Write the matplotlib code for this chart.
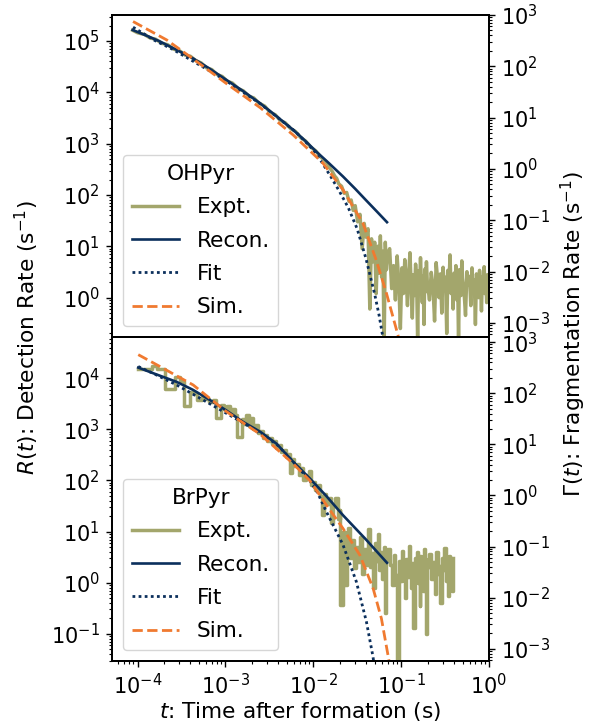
"""
Detection rate / fragmentation rate comparison for OHPyr and BrPyr
"""

import numpy as np
import matplotlib
matplotlib.use("Agg")
import matplotlib.pyplot as plt
from matplotlib.ticker import LogLocator, NullFormatter

plt.rcParams["font.size"] = 15.6

COL_EXPT = "#a3a66c"
COL_NAVY = "#0b2f5c"
COL_SIM = "#f07a30"

# ---------------- OHPyr (top panel) ----------------
top_expt_t = [8.8e-5, 1.0e-4, 1.2e-4, 1.4e-4, 1.6e-4, 1.9e-4, 2.2e-4, 2.6e-4, 3.0e-4, 3.5e-4,
              4.0e-4, 4.6e-4, 5.3e-4, 6.1e-4, 7.0e-4, 8.0e-4, 9.2e-4, 1.05e-3, 1.2e-3, 1.4e-3,
              1.6e-3, 1.85e-3, 2.1e-3, 2.4e-3, 2.8e-3, 3.2e-3, 3.7e-3, 4.2e-3, 4.8e-3, 5.5e-3,
              6.3e-3, 7.2e-3, 8.2e-3, 9.4e-3, 1.07e-2, 1.2e-2,
              0.0135, 0.0145, 0.0155, 0.0165, 0.0175, 0.0185, 0.0195, 0.021, 0.0225, 0.024,
              0.0255, 0.027, 0.0285, 0.030, 0.032, 0.034, 0.036, 0.038, 0.040, 0.042,
              0.044, 0.046, 0.048, 0.050, 0.052, 0.054, 0.056, 0.058, 0.060, 0.062,
              0.064, 0.066, 0.068, 0.070]
top_expt_r = [1.62e5, 1.45e5, 1.34e5, 1.14e5, 1.09e5, 9.0e4, 8.5e4, 6.9e4, 6.5e4, 5.3e4,
              5.05e4, 4.15e4, 3.75e4, 3.0e4, 2.78e4, 2.24e4, 2.04e4, 1.65e4, 1.52e4, 1.18e4,
              1.07e4, 8.4e3, 7.8e3, 6.2e3, 5.4e3, 4.15e3, 3.65e3, 2.85e3, 2.55e3, 1.98e3,
              1.72e3, 1.31e3, 1.12e3, 850, 720, 560,
              470, 400, 330, 285, 235, 210, 165, 148, 108, 112,
              75, 80, 50, 62, 30, 42, 9, 28, 15, 22,
              0.6, 14, 5, 12, 1.2, 10, 3, 16, 2.5, 8,
              0.1, 12, 3.5, 7]
top_tail_t = [0.074, 0.078, 0.082, 0.086, 0.090, 0.094, 0.098, 0.102, 0.106, 0.110,
              0.114, 0.118, 0.122, 0.126, 0.130, 0.134, 0.138, 0.142, 0.146, 0.150,
              0.154, 0.158, 0.162, 0.166, 0.170, 0.174, 0.178, 0.182, 0.186, 0.190,
              0.194, 0.198,
              0.21, 0.22, 0.23, 0.24, 0.25, 0.26, 0.27, 0.28, 0.29, 0.30,
              0.31, 0.32, 0.33, 0.34, 0.35, 0.36, 0.37, 0.38, 0.39, 0.40,
              0.41, 0.42, 0.43, 0.44, 0.45, 0.46, 0.47, 0.48, 0.49, 0.50,
              0.52, 0.54, 0.56, 0.58, 0.60, 0.62, 0.64, 0.66, 0.68, 0.70,
              0.72, 0.74, 0.76, 0.78, 0.80, 0.82, 0.84, 0.86, 0.88, 0.90,
              0.92, 0.94, 0.96, 0.98, 1.00]
top_tail_r = [9.0, 1.5, 4.2, 0.9, 6.5, 2.0, 0.25, 3.8, 1.2, 5.5,
              2.4, 0.7, 3.0, 7.5, 1.6, 0.4, 2.8, 1.1, 4.5, 2.2,
              0.15, 3.3, 1.4, 6.0, 1.9, 0.8, 2.6, 0.3, 3.6, 1.3,
              5.0, 2.1,
              0.9, 3.1, 1.7, 0.35, 4.8, 2.3, 1.0, 2.9, 0.5, 3.9,
              1.5, 2.5, 0.2, 3.4, 1.8, 6.8, 1.2, 2.7, 0.6, 3.0,
              1.6, 4.2, 0.9, 2.2, 0.12, 3.5, 1.9, 1.1, 5.2, 2.4,
              1.3, 0.45, 3.2, 1.8, 2.6, 0.7, 3.8, 1.5, 2.2, 0.3,
              2.9, 1.7, 1.0, 3.4, 2.0, 0.55, 2.5, 1.4, 4.0, 1.2,
              2.3, 0.8, 2.8, 1.6, 2.1]

top_recon_t = [8.8e-5, 1.3e-4, 1.8e-4, 2.8e-4, 4.3e-4, 6.5e-4, 1.03e-3, 1.6e-3, 2.47e-3,
               3.8e-3, 5.9e-3, 8.0e-3, 1.09e-2, 1.5e-2, 2.18e-2, 3.0e-2, 4.0e-2, 5.3e-2, 6.9e-2]
top_recon_r = [1.64e5, 1.25e5, 9.8e4, 6.7e4, 4.57e4, 2.95e4, 1.74e4, 1.05e4, 6.17e3,
               3.45e3, 1.86e3, 1.16e3, 692, 420, 229, 132, 78.5, 47.5, 29.5]

top_fit_t = [8.9e-5, 1.58e-4, 2.51e-4, 3.98e-4, 6.31e-4, 1.0e-3, 2.51e-3, 6.31e-3, 1.0e-2,
             1.26e-2, 1.58e-2, 2.0e-2, 2.51e-2, 3.16e-2, 3.98e-2, 5.01e-2, 5.62e-2, 6.31e-2, 7.08e-2]
top_fit_r = [1.86e5, 1.02e5, 6.9e4, 4.35e4, 2.75e4, 1.72e4, 5.95e3, 1.7e3, 759,
             427, 229, 115, 56, 21.9, 5.75, 1.15, 0.447, 0.141, 0.04]

top_sim_t = [8.9e-5, 2.15e-4, 4.0e-4, 1.03e-3, 2.5e-3, 5.9e-3, 1.29e-2, 2.18e-2, 3.68e-2,
             5.2e-2, 6.8e-2, 9.2e-2, 0.105]
top_sim_r = [2.4e5, 1.05e5, 4.9e4, 1.48e4, 5.0e3, 1.48e3, 417, 126, 28,
             5.4, 1.22, 0.186, 0.06]

# ---------------- BrPyr (bottom panel) ----------------
bot_expt_t = [1.0e-4, 1.3e-4, 1.45e-4, 1.66e-4, 2.04e-4, 2.69e-4, 3.05e-4, 3.39e-4, 3.98e-4, 4.4e-4,
              4.79e-4, 5.37e-4, 5.9e-4, 6.5e-4, 7.2e-4, 7.9e-4, 8.9e-4, 9.6e-4, 1.04e-3, 1.12e-3,
              1.2e-3, 1.28e-3, 1.35e-3, 1.55e-3, 1.65e-3, 1.72e-3, 1.85e-3, 1.95e-3, 2.05e-3, 2.2e-3,
              2.35e-3, 2.5e-3, 2.65e-3, 2.8e-3, 3.0e-3, 3.2e-3, 3.4e-3, 3.6e-3, 3.8e-3, 4.0e-3,
              4.3e-3, 4.6e-3, 4.9e-3, 5.2e-3, 5.5e-3, 5.8e-3, 6.1e-3, 6.5e-3, 6.9e-3, 7.3e-3,
              7.7e-3, 8.2e-3, 8.9e-3, 9.4e-3, 1.0e-2, 1.06e-2, 1.12e-2, 1.2e-2, 1.26e-2, 1.33e-2,
              1.41e-2, 1.5e-2, 1.58e-2, 1.68e-2, 1.78e-2, 1.9e-2, 2.0e-2, 2.04e-2, 2.2e-2, 2.3e-2,
              2.4e-2, 2.5e-2, 2.6e-2, 2.75e-2, 2.9e-2, 3.05e-2, 3.2e-2, 3.4e-2, 3.6e-2, 3.8e-2,
              4.0e-2, 4.2e-2, 4.4e-2, 4.6e-2, 4.8e-2, 5.0e-2, 5.2e-2, 5.4e-2, 5.6e-2, 5.8e-2,
              6.0e-2, 6.2e-2, 6.4e-2, 6.6e-2, 6.8e-2, 7.0e-2]
bot_expt_r = [1.55e4, 1.5e4, 1.75e4, 1.5e4, 6.3e3, 1.05e4, 9.0e3, 2.9e3, 5.4e3, 5.0e3,
              3.8e3, 4.5e3, 4.0e3, 3.5e3, 3.8e3, 1.66e3, 3.0e3, 2.5e3, 2.9e3, 2.1e3,
              2.5e3, 1.9e3, 720, 1.6e3, 1.25e3, 1.9e3, 1.15e3, 1.7e3, 1.0e3, 1.2e3,
              850, 950, 680, 780, 600, 680, 520, 580, 430, 490,
              360, 400, 290, 330, 140, 260, 190, 210, 130, 175,
              100, 130, 150, 80, 95, 65, 80, 50, 21, 55,
              35, 45, 15, 32, 45, 18, 26, 0.36, 10, 0.9,
              6, 12, 3, 7, 1.9, 5, 2.5, 8, 1.5, 4.5,
              2.2, 11, 2.0, 3.8, 0.8, 6, 2.6, 9, 1.8, 4.0,
              1.2, 3.2, 5.0, 0.25, 2.8, 4.5]
bot_tail_t = [0.074, 0.078, 0.082, 0.086, 0.090, 0.094, 0.098, 0.102, 0.106, 0.110,
              0.114, 0.118, 0.122, 0.126, 0.130, 0.134, 0.138, 0.142, 0.146, 0.150,
              0.154, 0.158, 0.162, 0.166, 0.170, 0.174, 0.178, 0.182, 0.186, 0.190,
              0.194, 0.198,
              0.21, 0.22, 0.23, 0.24, 0.25, 0.26, 0.27, 0.28, 0.29, 0.30,
              0.31, 0.32, 0.33, 0.34, 0.35, 0.36, 0.37, 0.38, 0.39]
bot_tail_r = [2.2, 0.9, 3.5, 1.4, 0.02, 2.6, 1.1, 4.2, 1.7, 0.5,
              2.9, 1.3, 5.3, 1.9, 0.8, 2.4, 0.13, 3.1, 1.5, 4.0,
              1.0, 2.7, 0.35, 3.3, 1.6, 2.2, 0.7, 4.6, 1.8, 2.9,
              0.1, 2.0,
              3.6, 1.2, 2.5, 0.6, 3.9, 1.5, 2.1, 0.4, 3.0, 1.8,
              4.8, 1.1, 2.6, 0.55, 3.4, 1.4, 2.3, 0.7, 3.1]

bot_recon_t = [1.02e-4, 1.58e-4, 2.79e-4, 4.27e-4, 6.67e-4, 1.02e-3, 1.58e-3, 2.51e-3, 3.82e-3,
               5.89e-3, 9.12e-3, 1.41e-2, 2.18e-2, 3.89e-2, 6.9e-2]
bot_recon_r = [1.62e4, 1.22e4, 8.5e3, 5.95e3, 3.76e3, 2.36e3, 1.41e3, 890, 525,
               234, 110, 49.5, 20.9, 7.3, 2.45]

bot_fit_t = [1.02e-4, 1.58e-4, 2.79e-4, 5.0e-4, 6.67e-4, 1.58e-3, 2.51e-3, 3.82e-3, 5.89e-3,
             9.12e-3, 1.12e-2, 1.41e-2, 2.18e-2, 3.09e-2, 4.02e-2, 4.79e-2, 5.0e-2]
bot_fit_r = [1.7e4, 1.2e4, 7.4e3, 4.2e3, 3.16e3, 1.35e3, 832, 513, 234,
             100, 57.5, 24.5, 5.5, 1.05, 0.174, 0.035, 0.02]

bot_sim_t = [1.02e-4, 1.8e-4, 4.3e-4, 1.0e-3, 2.51e-3, 5.89e-3, 9.12e-3, 1.41e-2, 2.18e-2,
             3.39e-2, 4.79e-2, 5.96e-2, 7.24e-2, 8.0e-2]
bot_sim_r = [2.9e4, 1.7e4, 7.4e3, 2.3e3, 794, 214, 100, 33, 11.5,
             3.47, 0.78, 0.2, 0.031, 0.008]

# ratio between detection rate and fragmentation rate (left / right axis)
top_scale = 322.0
bot_scale = 51.0
top_ylim = (0.171, 3.22e5)
bot_ylim = (0.0294, 6.43e4)


def style_log_axis(axis):
    axis.set_major_locator(LogLocator(base=10, numticks=30))
    axis.set_minor_locator(LogLocator(base=10, subs=np.arange(2, 10), numticks=100))
    axis.set_minor_formatter(NullFormatter())


def draw_panel(ax, name, expt_t, expt_r, recon_t, recon_r, fit_t, fit_r, sim_t, sim_r,
               ylim, scale, expt_style="default"):
    ax.plot(expt_t, expt_r, color=COL_EXPT, lw=2.5, drawstyle=expt_style, label="Expt.")
    ax.plot(recon_t, recon_r, color=COL_NAVY, lw=1.9, label="Recon.")
    ax.plot(fit_t, fit_r, color=COL_NAVY, lw=2.0, ls=(0, (1, 1.2)), label="Fit")
    ax.plot(sim_t, sim_r, color=COL_SIM, lw=2.0, ls="--", label="Sim.")
    ax.set_xscale("log")
    ax.set_yscale("log")
    ax.set_xlim(5.13e-5, 1.0)
    ax.set_ylim(*ylim)
    ax.legend(title=name, loc="lower left", labelspacing=0.62, handlelength=2.2)

    ax2 = ax.twinx()
    ax2.set_yscale("log")
    ax2.set_ylim(ylim[0] / scale, ylim[1] / scale)

    for a in (ax, ax2):
        style_log_axis(a.yaxis)
        a.tick_params(which="major", length=4.3, width=1.0, pad=4.5, labelsize=15)
        a.tick_params(which="minor", length=2.5, width=0.8)
        for sp in a.spines.values():
            sp.set_linewidth(1.3)
    style_log_axis(ax.xaxis)
    return ax2


fig = plt.figure(figsize=(6.01, 7.23), dpi=100)
ax_top = fig.add_axes([0.1864, 0.5339, 0.6273, 0.4454])
ax_bot = fig.add_axes([0.1864, 0.0858, 0.6273, 0.4481])

draw_panel(ax_top, "OHPyr", top_expt_t + top_tail_t, top_expt_r + top_tail_r,
           top_recon_t, top_recon_r, top_fit_t, top_fit_r, top_sim_t, top_sim_r,
           top_ylim, top_scale)
draw_panel(ax_bot, "BrPyr", bot_expt_t + bot_tail_t, bot_expt_r + bot_tail_r,
           bot_recon_t, bot_recon_r, bot_fit_t, bot_fit_r, bot_sim_t, bot_sim_r,
           bot_ylim, bot_scale, expt_style="steps-post")

ax_top.tick_params(axis="x", which="both", bottom=False, labelbottom=False)
ax_bot.set_xlabel("$t$: Time after formation (s)", labelpad=1)

fig.text(0.045, 0.533, "$R(t)$: Detection Rate (s$^{-1}$)", rotation=90,
         ha="center", va="center")
fig.text(0.954, 0.538, r"$\Gamma(t)$: Fragmentation Rate (s$^{-1}$)", rotation=90,
         ha="center", va="center")

fig.savefig("out.png", dpi=100)
